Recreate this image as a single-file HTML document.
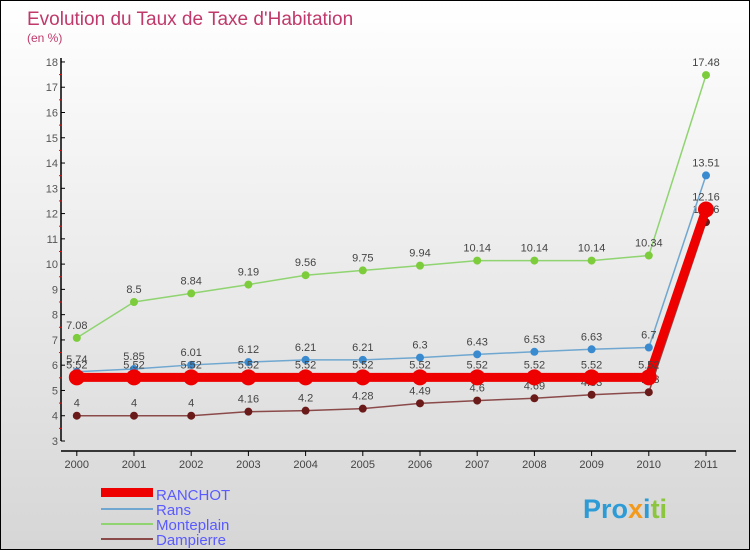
<!DOCTYPE html>
<html><head><meta charset="utf-8"><style>
body{margin:0}
#wrap{width:748px;height:548px;border:1px solid #000;position:relative;background:linear-gradient(#fff,#d6d6d6);font-family:"Liberation Sans",sans-serif;overflow:hidden}
</style></head><body>
<div id="wrap">
<svg id="svg" width="748" height="548" xmlns="http://www.w3.org/2000/svg">
<text x="26" y="24" font-size="19" fill="#c0396a">Evolution du Taux de Taxe d'Habitation</text>
<text x="26" y="41" font-size="12" fill="#c0396a">(en %)</text>
<g id="axes"></g><g id="series"></g>
<g>
<rect x="100" y="487" width="52" height="9" fill="#e00"/>
<text x="155" y="499" font-size="15" fill="#5a5aff">RANCHOT</text>
<line x1="100" y1="508" x2="152" y2="508" stroke="#6fa7d0" stroke-width="2"/>
<text x="155" y="514" font-size="15" fill="#5a5aff">Rans</text>
<line x1="100" y1="523" x2="152" y2="523" stroke="#8fd470" stroke-width="2"/>
<text x="155" y="529" font-size="15" fill="#5a5aff">Monteplain</text>
<line x1="100" y1="538" x2="152" y2="538" stroke="#8b4a4a" stroke-width="2"/>
<text x="155" y="544" font-size="15" fill="#5a5aff">Dampierre</text>
</g>
<g font-size="27" font-weight="bold">
<text x="582" y="517"><tspan fill="#2c9bd6">Pro</tspan><tspan fill="#f39a1c">x</tspan><tspan fill="#2c9bd6">i</tspan><tspan fill="#8cc63f">ti</tspan></text>
</g>
</svg>
</div>
<script>
const years=["2000","2001","2002","2003","2004","2005","2006","2007","2008","2009","2010","2011"];
const yTicks=[3,4,5,6,7,8,9,10,11,12,13,14,15,16,17,18];
const ranchot=[5.52,5.52,5.52,5.52,5.52,5.52,5.52,5.52,5.52,5.52,5.52,12.16];
const rans=[5.74,5.85,6.01,6.12,6.21,6.21,6.3,6.43,6.53,6.63,6.7,13.51];
const monteplain=[7.08,8.5,8.84,9.19,9.56,9.75,9.94,10.14,10.14,10.14,10.34,17.48];
const dampierre=[4,4,4,4.16,4.2,4.28,4.49,4.6,4.69,4.83,4.93,11.66];
const NS="http://www.w3.org/2000/svg";
const xs=i=>75.8+i*57.2;
const ys=v=>440-(v-3)*25.27;
function mk(t,a,p){const e=document.createElementNS(NS,t);for(const k in a)e.setAttribute(k,a[k]);p.appendChild(e);return e;}
const ax=document.getElementById('axes');
let l=mk('line',{x1:60,y1:ys(18)-4,x2:60,y2:440,stroke:'#000','stroke-width':1.5},ax);


l=mk('line',{x1:60,y1:450,x2:735,y2:450,stroke:'#000','stroke-width':1.5},ax);


yTicks.forEach(v=>{
 mk('line',{x1:60,y1:ys(v),x2:64,y2:ys(v),stroke:'#000'},ax);
 if(v<18) mk('line',{x1:58,y1:ys(v+0.5),x2:61,y2:ys(v+0.5),stroke:'#f00'},ax);
 const t=mk('text',{x:57,y:ys(v)+4,'font-size':11,fill:'#555','text-anchor':'end'},ax);
 t.textContent=v;
 
 
});
years.forEach((y,i)=>{
 mk('line',{x1:xs(i),y1:450,x2:xs(i),y2:455,stroke:'#000'},ax);
 const t=mk('text',{x:xs(i),y:467,'font-size':11,fill:'#444','text-anchor':'middle'},ax);
 t.textContent=y;
 
 
});
const sg=document.getElementById('series');
function draw(name,data,color,dot,w,r){
 const g=mk('g',{},sg);
 
 
 mk('polyline',{points:data.map((v,i)=>xs(i)+','+ys(v)).join(' '),fill:'none',stroke:color,'stroke-width':w},g);
 data.forEach((v,i)=>{
  const c=mk('circle',{cx:xs(i),cy:ys(v),r:r,fill:dot},g);
  
  
  const t=mk('text',{x:xs(i),y:ys(v)-9,'font-size':11,fill:'#444','text-anchor':'middle'},g);
  t.textContent=v;
  
  
 });
}
draw('dampierre',dampierre,'#8b4a4a','#6b1a1a',1.5,4);
draw('monteplain',monteplain,'#8fd470','#7ccc3c',1.5,4);
draw('rans',rans,'#6fa7d0','#3a8ad0',1.5,4);
draw('ranchot',ranchot,'#e00','#e00',9,8);
</script>
</body></html>
